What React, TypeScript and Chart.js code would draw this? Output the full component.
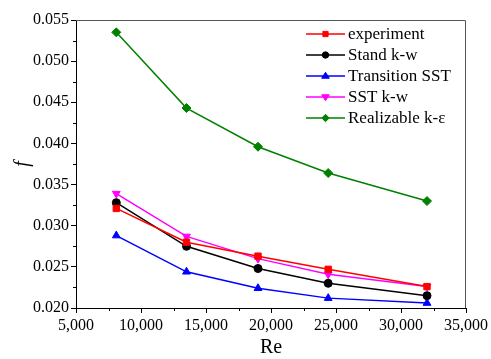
import React, { useEffect, useRef } from "react";
import { Chart, registerables } from "chart.js";
Chart.register(...registerables);

const re = [8100, 13500, 19000, 24400, 32000];
const experiment = [0.0321, 0.028, 0.0263, 0.0247, 0.0226];
const standKw = [0.0328, 0.0275, 0.0248, 0.023, 0.0215];
const transitionSst = [0.0288, 0.0244, 0.0224, 0.0212, 0.0206];
const sstKw = [0.0339, 0.0287, 0.026, 0.0241, 0.0226];
const realizable = [0.0535, 0.0443, 0.0396, 0.0364, 0.033];
const seriesNames = ["experiment", "Stand k-w", "Transition SST", "SST k-w", "Realizable k-ε"];
const seriesColors = ["#ff0000", "#000000", "#0000ff", "#ff00ff", "#008000"];
const seriesMarkers = ["rect", "circle", "triangle", "triangle", "rectRot"];
const seriesRotation = [0, 0, 0, 180, 0];
const seriesRadius = [4.5, 4, 4.5, 4.5, 4.5];
const seriesValues = [experiment, standKw, transitionSst, sstKw, realizable];

const FONT = "'Liberation Serif', 'Times New Roman', serif";

function drawMarker(ctx: CanvasRenderingContext2D, style: string, rot: number, x: number, y: number, r: number) {
  ctx.save();
  ctx.translate(x, y);
  ctx.rotate((rot * Math.PI) / 180);
  ctx.beginPath();
  if (style === "rect") {
    const s = r * Math.SQRT1_2;
    ctx.rect(-s, -s, 2 * s, 2 * s);
  } else if (style === "circle") {
    ctx.arc(0, 0, r, 0, Math.PI * 2);
  } else if (style === "triangle") {
    ctx.moveTo(0, -r);
    ctx.lineTo(r * 0.866 * 1.2, r * 0.5 * 1.2);
    ctx.lineTo(-r * 0.866 * 1.2, r * 0.5 * 1.2);
    ctx.closePath();
  } else if (style === "rectRot") {
    ctx.moveTo(0, -r);
    ctx.lineTo(r, 0);
    ctx.lineTo(0, r);
    ctx.lineTo(-r, 0);
    ctx.closePath();
  }
  ctx.fill();
  ctx.stroke();
  ctx.restore();
}

const framePlugin = {
  id: "frame",
  afterDraw(chart: any) {
    const ctx = chart.ctx;
    const a = chart.chartArea;
    const xs = chart.scales.x;
    const ys = chart.scales.y;
    ctx.save();
    ctx.strokeStyle = "#555";
    ctx.lineWidth = 1;
    ctx.beginPath();
    ctx.moveTo(a.left, a.top + 0.5);
    ctx.lineTo(a.right - 0.5, a.top + 0.5);
    ctx.lineTo(a.right - 0.5, a.bottom);
    ctx.stroke();
    ctx.strokeStyle = "#000";
    ctx.beginPath();
    for (let v = 7500; v < 35000; v += 5000) {
      const px = Math.round(xs.getPixelForValue(v)) + 0.5;
      ctx.moveTo(px, a.bottom);
      ctx.lineTo(px, a.bottom + 3);
    }
    for (let i = 0; i < 7; i++) {
      const v = 0.0225 + i * 0.005;
      const py = Math.round(ys.getPixelForValue(v)) + 0.5;
      ctx.moveTo(a.left, py);
      ctx.lineTo(a.left - 3, py);
    }
    ctx.stroke();
    const lx0 = 306, lx1 = 345, tx = 348;
    ctx.font = `17px ${FONT}`;
    ctx.textBaseline = "middle";
    ctx.textAlign = "left";
    chart.data.datasets.forEach((ds: any, i: number) => {
      const y = 34 + i * 21;
      ctx.strokeStyle = ds.borderColor;
      ctx.lineWidth = 1.5;
      ctx.beginPath();
      ctx.moveTo(lx0, y);
      ctx.lineTo(lx1, y);
      ctx.stroke();
      ctx.fillStyle = ds.backgroundColor;
      ctx.strokeStyle = ds.borderColor;
      ctx.lineWidth = 1;
      drawMarker(ctx, ds.pointStyle, ds.pointRotation, (lx0 + lx1) / 2, y, ds.pointRadius - 0.8);
      ctx.fillStyle = "#000";
      ctx.fillText(ds.label, tx, y + 1);
    });
    ctx.restore();
  },
};

export default function App() {
  const ref = useRef<HTMLCanvasElement>(null);
  useEffect(() => {
    const prevMargin = document.body.style.margin;
    document.body.style.margin = "0";
    const chart = new Chart(ref.current!, {
      type: "line",
      data: {
        datasets: seriesNames.map((name, i) => ({
          label: name,
          data: re.map((x, j) => ({ x, y: seriesValues[i][j] })),
          borderColor: seriesColors[i],
          backgroundColor: seriesColors[i],
          pointStyle: seriesMarkers[i] as any,
          pointRotation: seriesRotation[i],
          pointRadius: seriesRadius[i],
          borderWidth: 1.5,
          pointBorderWidth: 1,
          tension: 0,
        })),
      },
      options: {
        animation: false,
        responsive: false,
        layout: { padding: { left: 0, right: 23, top: 20, bottom: 0 } },
        plugins: { legend: { display: false }, tooltip: { enabled: false } },
        scales: {
          x: {
            type: "linear",
            min: 5000,
            max: 35000,
            afterFit: (s: any) => { s.height = 51; },
            ticks: {
              stepSize: 5000,
              color: "#000",
              padding: 3,
              font: { family: FONT, size: 16 },
              callback: (v: any) => Number(v).toLocaleString("en-US"),
              maxRotation: 0,
            },
            grid: { drawOnChartArea: false, drawTicks: true, tickLength: 5, tickColor: "#000" },
            border: { color: "#000", width: 1 },
            title: { display: true, text: "Re", color: "#000", font: { family: FONT, size: 20 }, padding: { top: 4, bottom: -1 } },
          },
          y: {
            type: "linear",
            min: 0.02,
            max: 0.055,
            afterFit: (s: any) => { s.width = 76; },
            ticks: {
              stepSize: 0.005,
              color: "#000",
              padding: 2,
              font: { family: FONT, size: 16 },
              callback: (v: any) => Number(v).toFixed(3),
            },
            grid: { drawOnChartArea: false, drawTicks: true, tickLength: 5, tickColor: "#000" },
            border: { color: "#000", width: 1 },
            title: { display: true, text: "f", color: "#000", font: { family: FONT, size: 20, style: "italic" }, padding: { top: 11, bottom: 0 } },
          },
        },
      },
      plugins: [framePlugin],
    });
    return () => {
      chart.destroy();
      document.body.style.margin = prevMargin;
    };
  }, []);
  return (
    <div style={{ position: "fixed", left: 0, top: 0, width: 491, height: 359 }}>
      <canvas ref={ref} width={491} height={359} style={{ display: "block", width: 491, height: 359 }} />
    </div>
  );
}
